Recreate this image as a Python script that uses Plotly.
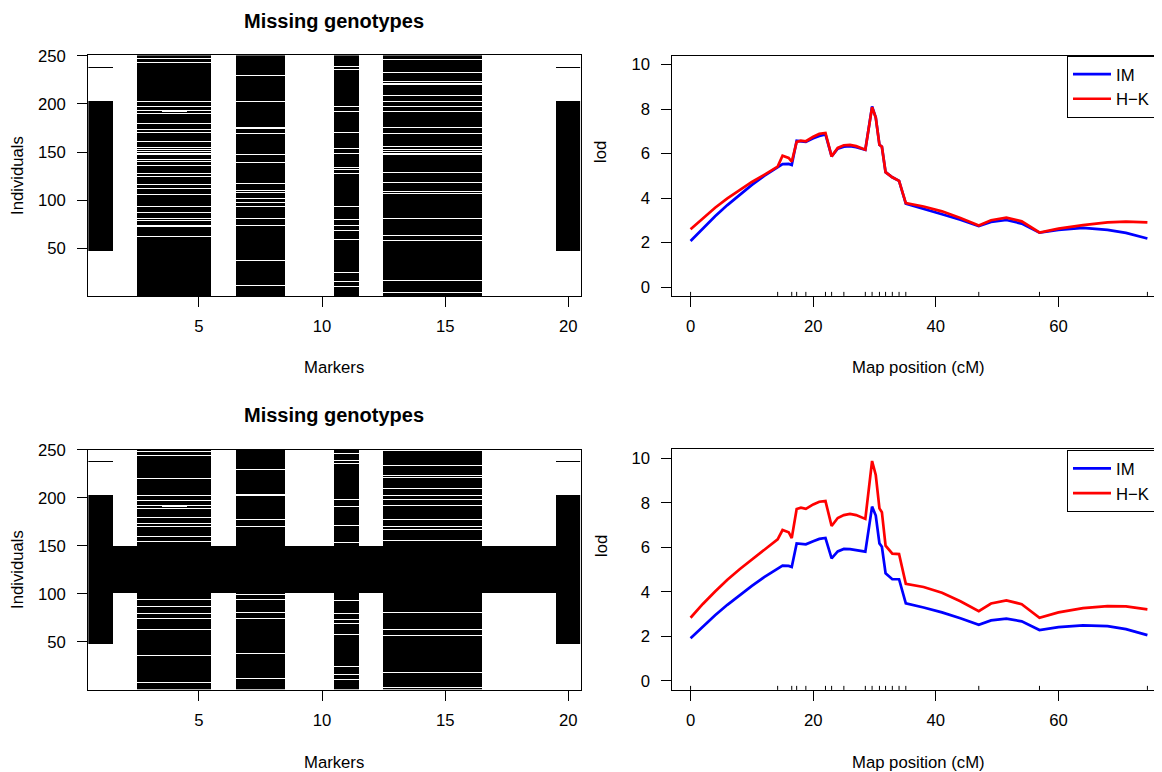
import numpy as np
import plotly.graph_objects as go

# ---------------- data: missing-genotype pattern ----------------
markers = list(range(1, 21))
n_individuals = 250
individuals = list(range(1, n_individuals + 1))

end_cols = [1, 20]                       # markers with a block of missing individuals
end_missing = list(range(48, 204)) + [238]
typed_cols = [2, 6, 9, 10, 12, 17, 18, 19]  # fully genotyped markers

group_A = [3, 4, 5]
group_B = [7, 8]
group_C = [11]
group_D = [13, 14, 15, 16]
extra_col = 4

# individuals that ARE genotyped within the mostly-missing markers (panel 1)
typed_A1 = [247, 243, 202, 197, 193, 190, 180, 173, 170, 161, 155, 153, 151, 149, 147,
            142, 140, 136, 128, 125, 120, 116, 112, 106, 94, 87, 81, 79, 74, 73, 62, 9]
extra_A1 = [192]
typed_B1 = [229, 203, 202, 176, 174, 169, 147, 139, 117, 110, 108, 102, 98, 94, 81, 74, 38, 12]
typed_C1 = [239, 236, 197, 192, 170, 154, 149, 134, 132, 128, 94, 80, 74, 69, 59, 25, 16, 11]
typed_D1 = [246, 233, 223, 221, 220, 209, 202, 197, 192, 176, 169, 156, 153, 151, 149, 147,
            129, 118, 109, 107, 81, 63, 58, 17, 4]

# panel 2 (individuals 101-150 fully missing)
block_missing2 = list(range(101, 151))
typed_A2 = [248, 244, 220, 203, 197, 192, 189, 180, 173, 170, 160, 155, 94, 87, 80, 74, 63, 36, 8]
extra_A2 = [191]
typed_B2 = [230, 204, 203, 178, 175, 170, 99, 94, 81, 74, 38, 12]
typed_C2 = [246, 239, 236, 198, 191, 171, 154, 93, 80, 73, 69, 58, 24, 16, 11]
typed_D2 = [249, 234, 225, 223, 221, 210, 203, 198, 192, 178, 170, 167, 156, 81, 63, 57, 18, 3]

# ---------------- data: LOD curves ----------------
pos_cM = [0, 2, 4, 6, 8, 10, 12, 14.2, 15, 16, 16.5, 17.3, 18, 18.8, 20, 21, 22, 23, 24, 25,
          26, 27, 28.5, 29.6, 30.2, 30.8, 31.2, 31.8, 32.9, 34, 35.1, 38, 41, 44, 47, 49,
          51.5, 54, 56.9, 60, 64, 68, 71, 74.5]

lod_im_1 = [2.07, 2.64, 3.18, 3.68, 4.15, 4.59, 4.99, 5.39, 5.52, 5.53, 5.48, 6.57, 6.56, 6.52,
            6.68, 6.79, 6.86, 5.87, 6.22, 6.31, 6.33, 6.28, 6.17, 8.11, 7.62, 6.39, 6.30, 5.16,
            4.93, 4.77, 3.75, 3.53, 3.27, 3.02, 2.74, 2.92, 3.01, 2.85, 2.44, 2.57, 2.66, 2.57,
            2.43, 2.18]
lod_hk_1 = [2.60, 3.10, 3.56, 3.98, 4.37, 4.72, 5.04, 5.41, 5.90, 5.80, 5.63, 6.52, 6.58, 6.55,
            6.75, 6.88, 6.92, 5.87, 6.25, 6.37, 6.39, 6.33, 6.17, 8.08, 7.62, 6.39, 6.30, 5.16,
            4.93, 4.77, 3.77, 3.62, 3.40, 3.10, 2.76, 3.00, 3.12, 2.95, 2.45, 2.62, 2.78, 2.90,
            2.94, 2.90]
lod_im_2 = [1.92, 2.45, 2.95, 3.42, 3.86, 4.27, 4.66, 5.06, 5.18, 5.17, 5.12, 6.18, 6.17, 6.14,
            6.28, 6.38, 6.42, 5.51, 5.82, 5.93, 5.92, 5.88, 5.81, 7.83, 7.43, 6.18, 6.03, 4.84,
            4.57, 4.57, 3.49, 3.30, 3.08, 2.82, 2.52, 2.72, 2.80, 2.68, 2.29, 2.42, 2.50, 2.46,
            2.33, 2.06]
lod_hk_2 = [2.84, 3.46, 4.02, 4.55, 5.02, 5.46, 5.88, 6.36, 6.78, 6.68, 6.42, 7.72, 7.78, 7.73,
            7.93, 8.05, 8.08, 6.96, 7.32, 7.45, 7.50, 7.45, 7.28, 9.88, 9.25, 7.75, 7.58, 6.08,
            5.72, 5.70, 4.36, 4.22, 3.96, 3.58, 3.14, 3.48, 3.62, 3.45, 2.84, 3.08, 3.27, 3.36,
            3.35, 3.22]

marker_pos_cM = [0, 14.2, 16.5, 17.3, 18.8, 22.0, 23.0, 25.0, 28.5, 29.6, 30.8, 31.8, 32.9,
                 34.0, 35.1, 47.0, 56.9, 74.5]

series_names = ["IM", "H\u2212K"]
series_colors = ["#0000FF", "#FF0000"]


def missing_matrix(tA, eA, tB, tC, tD, block=None):
    z = np.zeros((n_individuals, len(markers)))
    for c in end_cols:
        z[np.array(end_missing) - 1, c - 1] = 1
    for cols, typed in [(group_A, tA), (group_B, tB), (group_C, tC), (group_D, tD)]:
        for c in cols:
            z[:, c - 1] = 1
            z[np.array(typed) - 1, c - 1] = 0
    z[np.array(eA) - 1, extra_col - 1] = 0
    if block:
        z[np.array(block) - 1, :] = 1
    return z


z1 = missing_matrix(typed_A1, extra_A1, typed_B1, typed_C1, typed_D1)
z2 = missing_matrix(typed_A2, extra_A2, typed_B2, typed_C2, typed_D2, block_missing2)

# the page adds an 8px body margin; lay out in window pixels and convert
OFF = 8
W, H = 1162 - OFF, 772 - OFF
FONT = "Liberation Sans, Arial, Helvetica, sans-serif"
FS = 16.7


def px(x):
    return (x - OFF) / W


def py(y):
    return 1 - (y - OFF) / H


fig = go.Figure()

# missing genotype heatmaps
for z, xa, ya in [(z1, "x", "y"), (z2, "x3", "y3")]:
    fig.add_trace(go.Heatmap(z=z, x=markers, y=individuals, xaxis=xa, yaxis=ya,
                             colorscale=[[0, "white"], [1, "black"]], zmin=0, zmax=1,
                             showscale=False, zsmooth=False, hoverinfo="skip"))

# LOD curves
for (im, hk, xa, ya, lg) in [(lod_im_1, lod_hk_1, "x2", "y2", "legend"),
                               (lod_im_2, lod_hk_2, "x4", "y4", "legend2")]:
    for vals, name, col in zip([im, hk], series_names, series_colors):
        fig.add_trace(go.Scatter(x=pos_cM, y=vals, mode="lines", name=name, xaxis=xa, yaxis=ya,
                                 line=dict(color=col, width=2.7), legend=lg, showlegend=True,
                                 hoverinfo="skip"))
    # rug of marker positions
    rx, ry = [], []
    for p in marker_pos_cM:
        rx += [p, p, None]
        ry += [-0.4, -0.22, None]
    fig.add_trace(go.Scatter(x=rx, y=ry, mode="lines", xaxis=xa, yaxis=ya, showlegend=False,
                             line=dict(color="black", width=1), hoverinfo="skip"))

tickfont = dict(family=FONT, size=FS, color="black")
common = dict(showgrid=False, zeroline=False, showline=True, linecolor="black", linewidth=1,
              ticks="outside", ticklen=10, tickcolor="black", tickwidth=1, tickfont=tickfont,
              automargin=False)

left_x = [px(88.2), px(580.6)]
right_x = [px(672.3), 1.0]
top_y_heat = [py(296.4), py(55.2)]
bot_y_heat = [py(689.5), py(449.5)]
top_y_lod = [py(295.9), py(55.6)]
bot_y_lod = [py(689.9), py(449.4)]

legend_style = dict(xanchor="left", yanchor="top", bordercolor="black", borderwidth=1,
                    bgcolor="white", font=dict(family=FONT, size=FS, color="black"),
                    itemwidth=38, tracegroupgap=0)

fig.update_layout(
    template="none",
    width=W, height=H, autosize=False,
    margin=dict(l=0, r=0, t=0, b=0, pad=0),
    paper_bgcolor="white", plot_bgcolor="white",
    font=dict(family=FONT, color="black"),
    xaxis=dict(domain=left_x, anchor="y", range=[0.5, 20.5], tickvals=[5, 10, 15, 20],
               mirror=True, ticklabelstandoff=5, **common),
    yaxis=dict(domain=top_y_heat, anchor="x", range=[0.5, 250.5],
               tickvals=[50, 100, 150, 200, 250], mirror=True, ticklabelstandoff=8, **common),
    xaxis2=dict(domain=right_x, anchor="y2", range=[-2.98, 76.88], tickvals=[0, 20, 40, 60],
                mirror=True, ticklabelstandoff=5, **common),
    yaxis2=dict(domain=top_y_lod, anchor="x2", range=[-0.4, 10.4], tickvals=[0, 2, 4, 6, 8, 10],
                mirror=False, ticklabelstandoff=8, **common),
    xaxis3=dict(domain=left_x, anchor="y3", range=[0.5, 20.5], tickvals=[5, 10, 15, 20],
                mirror=True, ticklabelstandoff=5, **common),
    yaxis3=dict(domain=bot_y_heat, anchor="x3", range=[0.5, 250.5],
                tickvals=[50, 100, 150, 200, 250], mirror=True, ticklabelstandoff=8, **common),
    xaxis4=dict(domain=right_x, anchor="y4", range=[-2.98, 76.88], tickvals=[0, 20, 40, 60],
                mirror=True, ticklabelstandoff=5, **common),
    yaxis4=dict(domain=bot_y_lod, anchor="x4", range=[-0.4, 10.4], tickvals=[0, 2, 4, 6, 8, 10],
                mirror=False, ticklabelstandoff=8, **common),
    legend=dict(x=px(1067), y=py(55.7), **legend_style),
    legend2=dict(x=px(1067), y=py(450), **legend_style),
)

ann = []


def add_text(text, x, y, size, angle=0):
    ann.append(dict(text=text, x=px(x), y=py(y), xref="paper", yref="paper",
                    xanchor="center", yanchor="middle", showarrow=False, textangle=angle,
                    font=dict(family=FONT, size=size, color="black")))


for off in [0, 394]:
    add_text("<b>Missing genotypes</b>", 334, 21 + off, 20)
    add_text("Markers", 334, 368 + off, FS)
    add_text("Individuals", 17, 176 + off, FS, -90)
    add_text("lod", 601, 152 + off, FS, -90)
    add_text("Map position (cM)", 918, 368 + off, FS)
fig.update_layout(annotations=ann)

fig.write_html("out.html")
